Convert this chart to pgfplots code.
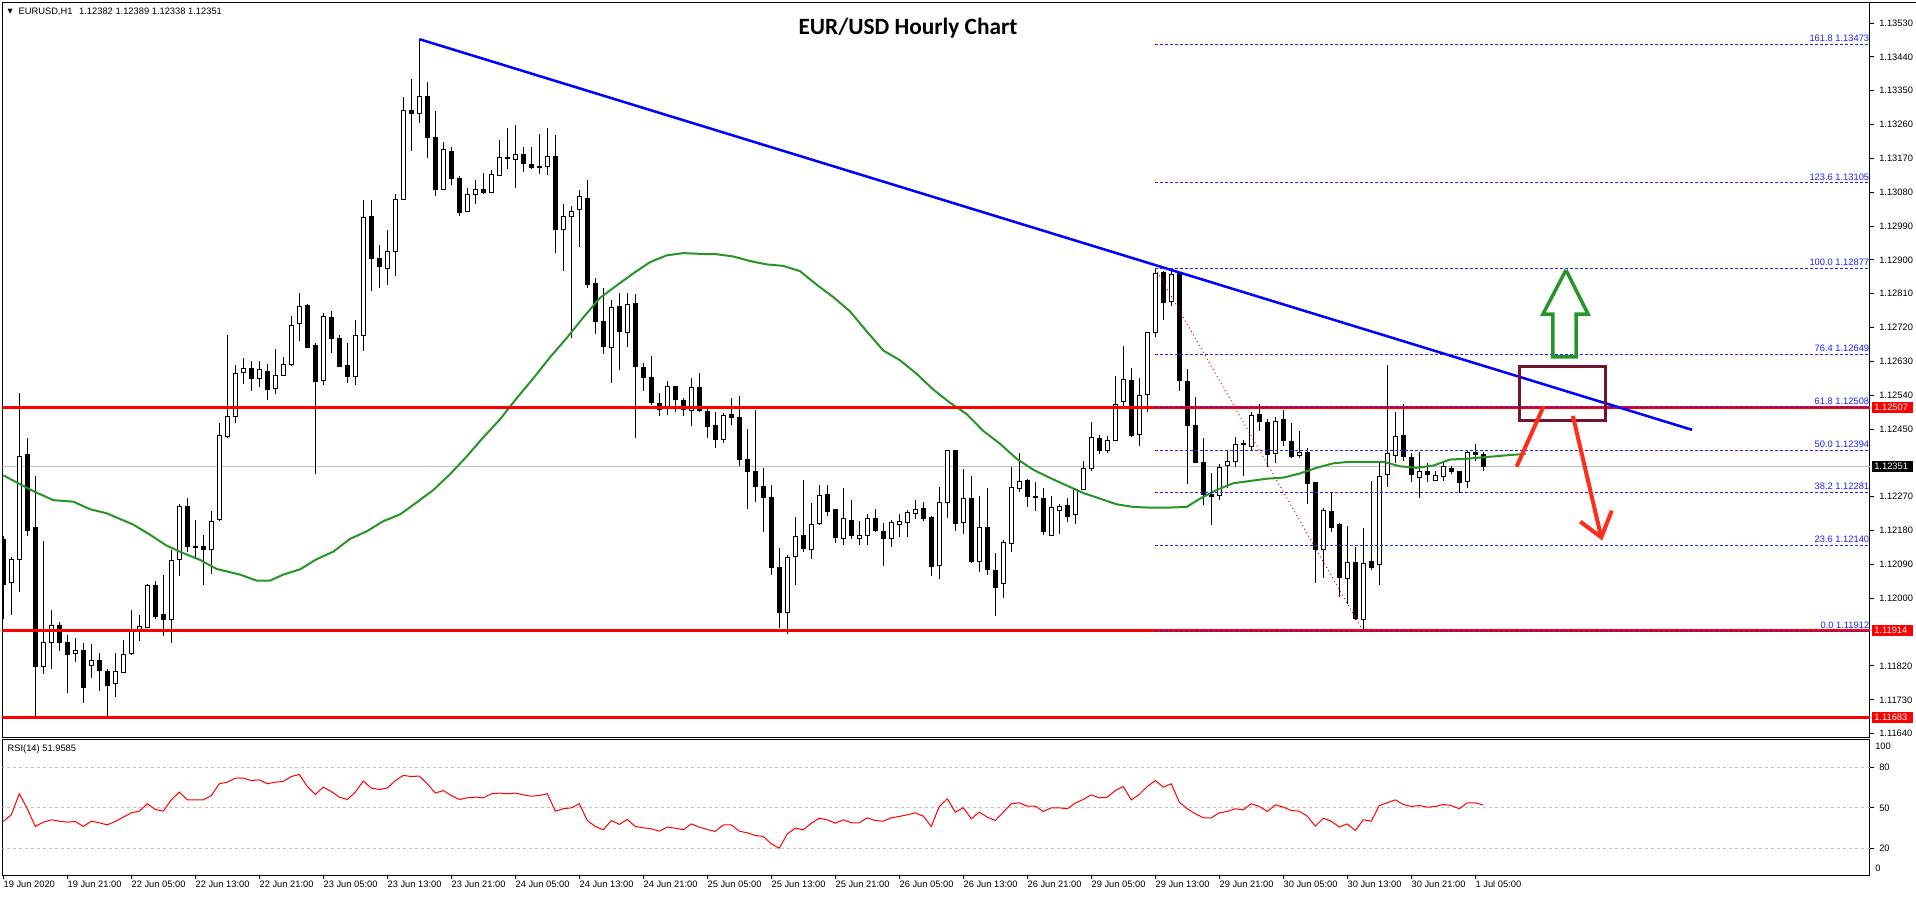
\documentclass[border=0pt]{standalone}
\usepackage{pgfplots}
\pgfplotsset{compat=1.18}
\usepackage{pgfplotstable}
\usepackage{fontspec}
\setmainfont{Liberation Sans}
\newfontfamily\titlefont{Carlito}
\newfontfamily\symfont{DejaVu Sans}
\definecolor{mablue}{RGB}{0,0,255}
\definecolor{magreen}{RGB}{38,148,38}
\definecolor{mared}{RGB}{255,0,0}
\definecolor{arrred}{RGB}{255,45,25}
\definecolor{boxred}{RGB}{112,20,48}
\definecolor{pgray}{RGB}{192,192,192}
\definecolor{fibblue}{RGB}{30,30,255}
\newcommand\sm{\fontsize{7}{8.4}\selectfont}

\pgfplotstableread{
i O H L C
0 1.12158 1.12165 1.11944 1.12039
1 1.12042 1.12110 1.11956 1.12104
2 1.12104 1.12546 1.12017 1.12380
3 1.12383 1.12427 1.12166 1.12181
4 1.12190 1.12326 1.11683 1.11819
5 1.11819 1.12152 1.11799 1.11882
6 1.11884 1.11968 1.11813 1.11928
7 1.11928 1.11937 1.11861 1.11884
8 1.11884 1.11903 1.11748 1.11851
9 1.11855 1.11894 1.11831 1.11863
10 1.11863 1.11882 1.11722 1.11763
11 1.11822 1.11878 1.11789 1.11835
12 1.11835 1.11855 1.11754 1.11807
13 1.11807 1.11813 1.11685 1.11768
14 1.11774 1.11855 1.11738 1.11805
15 1.11805 1.11890 1.11801 1.11852
16 1.11852 1.11968 1.11849 1.11912
17 1.11914 1.11956 1.11887 1.11925
18 1.11922 1.12039 1.11920 1.12035
19 1.12035 1.12047 1.11946 1.11953
20 1.11958 1.12063 1.11899 1.11944
21 1.11944 1.12128 1.11882 1.12102
22 1.12104 1.12250 1.12060 1.12244
23 1.12244 1.12267 1.12122 1.12137
24 1.12137 1.12207 1.12110 1.12138
25 1.12137 1.12169 1.12035 1.12131
26 1.12131 1.12231 1.12065 1.12205
27 1.12209 1.12466 1.12205 1.12434
28 1.12431 1.12700 1.12425 1.12484
29 1.12484 1.12620 1.12466 1.12600
30 1.12600 1.12638 1.12571 1.12611
31 1.12611 1.12632 1.12552 1.12585
32 1.12585 1.12632 1.12561 1.12609
33 1.12603 1.12623 1.12528 1.12555
34 1.12558 1.12662 1.12543 1.12594
35 1.12594 1.12642 1.12591 1.12624
36 1.12623 1.12751 1.12618 1.12727
37 1.12731 1.12813 1.12684 1.12778
38 1.12778 1.12784 1.12666 1.12668
39 1.12671 1.12680 1.12330 1.12577
40 1.12581 1.12759 1.12567 1.12751
41 1.12747 1.12763 1.12653 1.12692
42 1.12692 1.12700 1.12615 1.12618
43 1.12620 1.12680 1.12573 1.12591
44 1.12591 1.12739 1.12567 1.12700
45 1.12700 1.13060 1.12659 1.13012
46 1.13016 1.13060 1.12816 1.12903
47 1.12903 1.12939 1.12825 1.12882
48 1.12878 1.12980 1.12834 1.12923
49 1.12923 1.13074 1.12858 1.13060
50 1.13063 1.13333 1.13060 1.13300
51 1.13297 1.13380 1.13190 1.13289
52 1.13289 1.13487 1.13265 1.13335
53 1.13336 1.13374 1.13170 1.13226
54 1.13226 1.13297 1.13069 1.13087
55 1.13087 1.13214 1.13086 1.13193
56 1.13190 1.13199 1.13098 1.13119
57 1.13119 1.13122 1.13018 1.13028
58 1.13028 1.13090 1.13027 1.13074
59 1.13075 1.13113 1.13048 1.13090
60 1.13090 1.13131 1.13074 1.13081
61 1.13081 1.13139 1.13078 1.13127
62 1.13125 1.13220 1.13122 1.13173
63 1.13173 1.13250 1.13143 1.13170
64 1.13167 1.13258 1.13090 1.13179
65 1.13179 1.13200 1.13133 1.13155
66 1.13155 1.13199 1.13143 1.13147
67 1.13147 1.13236 1.13129 1.13148
68 1.13149 1.13250 1.13125 1.13176
69 1.13175 1.13232 1.12917 1.12980
70 1.12980 1.13048 1.12870 1.13015
71 1.13015 1.13044 1.12692 1.13030
72 1.13034 1.13086 1.12933 1.13069
73 1.13066 1.13113 1.12826 1.12837
74 1.12837 1.12852 1.12704 1.12737
75 1.12737 1.12825 1.12650 1.12671
76 1.12668 1.12793 1.12573 1.12775
77 1.12777 1.12811 1.12606 1.12710
78 1.12707 1.12811 1.12668 1.12783
79 1.12783 1.12808 1.12425 1.12617
80 1.12615 1.12626 1.12552 1.12587
81 1.12587 1.12644 1.12514 1.12520
82 1.12520 1.12547 1.12484 1.12504
83 1.12504 1.12577 1.12488 1.12564
84 1.12564 1.12565 1.12496 1.12528
85 1.12526 1.12532 1.12484 1.12502
86 1.12502 1.12585 1.12458 1.12561
87 1.12561 1.12599 1.12496 1.12502
88 1.12498 1.12508 1.12427 1.12458
89 1.12460 1.12496 1.12401 1.12422
90 1.12422 1.12492 1.12413 1.12488
91 1.12490 1.12532 1.12460 1.12482
92 1.12482 1.12538 1.12351 1.12371
93 1.12371 1.12451 1.12238 1.12339
94 1.12339 1.12502 1.12256 1.12297
95 1.12297 1.12347 1.12175 1.12268
96 1.12268 1.12300 1.12063 1.12083
97 1.12083 1.12134 1.11922 1.11964
98 1.11964 1.12114 1.11905 1.12110
99 1.12112 1.12217 1.12035 1.12166
100 1.12169 1.12315 1.12122 1.12134
101 1.12130 1.12253 1.12104 1.12196
102 1.12199 1.12300 1.12196 1.12273
103 1.12276 1.12302 1.12219 1.12231
104 1.12235 1.12238 1.12146 1.12161
105 1.12161 1.12294 1.12143 1.12213
106 1.12207 1.12262 1.12158 1.12167
107 1.12160 1.12205 1.12143 1.12167
108 1.12167 1.12223 1.12142 1.12213
109 1.12214 1.12238 1.12175 1.12181
110 1.12179 1.12199 1.12087 1.12160
111 1.12160 1.12209 1.12137 1.12202
112 1.12197 1.12223 1.12164 1.12203
113 1.12202 1.12235 1.12164 1.12229
114 1.12226 1.12262 1.12211 1.12238
115 1.12238 1.12255 1.12205 1.12213
116 1.12217 1.12219 1.12060 1.12087
117 1.12087 1.12297 1.12051 1.12255
118 1.12255 1.12395 1.12214 1.12393
119 1.12393 1.12395 1.12179 1.12199
120 1.12203 1.12344 1.12172 1.12268
121 1.12267 1.12324 1.12093 1.12098
122 1.12098 1.12273 1.12069 1.12190
123 1.12190 1.12294 1.12063 1.12077
124 1.12075 1.12120 1.11953 1.12029
125 1.12039 1.12154 1.12001 1.12148
126 1.12146 1.12350 1.12124 1.12294
127 1.12294 1.12386 1.12282 1.12312
128 1.12315 1.12318 1.12244 1.12270
129 1.12270 1.12310 1.12232 1.12271
130 1.12267 1.12294 1.12169 1.12178
131 1.12167 1.12273 1.12166 1.12243
132 1.12235 1.12250 1.12172 1.12244
133 1.12249 1.12268 1.12202 1.12219
134 1.12223 1.12294 1.12197 1.12291
135 1.12291 1.12365 1.12288 1.12347
136 1.12345 1.12470 1.12338 1.12427
137 1.12427 1.12434 1.12383 1.12395
138 1.12395 1.12431 1.12386 1.12421
139 1.12421 1.12591 1.12419 1.12517
140 1.12523 1.12671 1.12511 1.12581
141 1.12581 1.12612 1.12428 1.12433
142 1.12437 1.12585 1.12404 1.12541
143 1.12541 1.12707 1.12496 1.12707
144 1.12707 1.12877 1.12694 1.12864
145 1.12866 1.12870 1.12739 1.12787
146 1.12790 1.12870 1.12777 1.12860
147 1.12864 1.12866 1.12552 1.12581
148 1.12579 1.12611 1.12304 1.12460
149 1.12460 1.12535 1.12359 1.12362
150 1.12362 1.12425 1.12247 1.12276
151 1.12276 1.12332 1.12196 1.12270
152 1.12274 1.12357 1.12261 1.12350
153 1.12353 1.12395 1.12294 1.12365
154 1.12365 1.12428 1.12350 1.12411
155 1.12411 1.12421 1.12324 1.12410
156 1.12405 1.12496 1.12395 1.12488
157 1.12488 1.12517 1.12445 1.12470
158 1.12470 1.12476 1.12350 1.12383
159 1.12386 1.12481 1.12359 1.12472
160 1.12475 1.12500 1.12404 1.12419
161 1.12417 1.12466 1.12374 1.12377
162 1.12380 1.12445 1.12374 1.12389
163 1.12389 1.12401 1.12250 1.12308
164 1.12308 1.12310 1.12041 1.12130
165 1.12130 1.12241 1.12054 1.12235
166 1.12231 1.12282 1.12175 1.12190
167 1.12196 1.12199 1.12003 1.12054
168 1.12053 1.12193 1.11985 1.12095
169 1.12095 1.12137 1.11941 1.11946
170 1.11944 1.12187 1.11912 1.12093
171 1.12098 1.12312 1.12075 1.12083
172 1.12090 1.12362 1.12035 1.12324
173 1.12330 1.12620 1.12297 1.12386
174 1.12380 1.12496 1.12359 1.12433
175 1.12433 1.12517 1.12365 1.12377
176 1.12375 1.12386 1.12308 1.12330
177 1.12324 1.12389 1.12267 1.12339
178 1.12338 1.12359 1.12308 1.12330
179 1.12315 1.12339 1.12312 1.12328
180 1.12324 1.12362 1.12312 1.12351
181 1.12347 1.12353 1.12330 1.12338
182 1.12338 1.12339 1.12280 1.12308
183 1.12312 1.12393 1.12292 1.12389
184 1.12389 1.12410 1.12365 1.12383
185 1.12382 1.12389 1.12338 1.12351
}\candles

\pgfplotsset{
  panel/.style={
    scale only axis, width=1400.625pt,
    xmin=-0.1, xmax=233.3375,
    axis line style={black, line width=0.75pt},
    tick align=outside, major tick length=3pt,
    every tick/.style={black, line width=0.75pt},
    ytick pos=right, yticklabel pos=right,
    /pgf/number format/assume math mode=true,
    tick label style={font=\sm, inner sep=0pt},
    yticklabel style={anchor=west, xshift=3.75pt},
  },
  nomark/.style={only marks, mark=*, mark size=0pt, mark options={draw=none, fill=none}, forget plot},
  fib/.style={fibblue, line width=0.75pt, dash pattern=on 2.25pt off 1.5pt, forget plot},
  hline/.style={mared, line width=1.9pt, forget plot},
}
\tikzset{
  pricetag/.style={anchor=west, font=\sm, text=white, fill=#1, inner xsep=1.5pt, inner ysep=1.7pt, text width=27.75pt, align=left},
}

\begin{document}
\begin{tikzpicture}
\useasboundingbox (0,0) rectangle (1437pt,-672pt);
\draw[line width=0.75pt] (1.875pt,-1.5pt) -- (1437pt,-1.5pt);

\begin{axis}[panel,
  at={(1.875pt,-1.5pt)}, anchor=north west, height=551.25pt,
  ymin=1.1163106, ymax=1.1358585,
  xtick=\empty,
  ytick={1.1164,1.1173,1.1182,1.1200,1.1209,1.1218,1.1227,1.1245,1.1254,1.1263,1.1272,1.1281,1.1290,1.1299,1.1308,1.1317,1.1326,1.1335,1.1344,1.1353},
  yticklabels={1.11640,1.11730,1.11820,1.12000,1.12090,1.12180,1.12270,1.12450,1.12540,1.12630,1.12720,1.12810,1.12900,1.12990,1.13080,1.13170,1.13260,1.13350,1.13440,1.13530},
]
% current price line
\addplot[pgray, line width=0.75pt, forget plot] coordinates {(-1,1.12351) (240,1.12351)};
% wicks
\addplot[nomark,
  error bars/.cd, y dir=plus, y explicit, error mark=none,
  error bar style={draw=black, line width=0.75pt}]
  table[x=i, y=L, y error expr=\thisrow{H}-\thisrow{L}] {\candles};
% bodies (outer, black)
\addplot[nomark,
  error bars/.cd, y dir=both, y explicit, error mark=none,
  error bar style={draw=black, line width=3.75pt, line cap=butt}]
  table[x=i, y expr=(\thisrow{O}+\thisrow{C})/2,
        y error expr={abs(\thisrow{O}-\thisrow{C})/2+0.0000133}] {\candles};
% bodies (inner, white for rising candles)
\addplot[nomark,
  error bars/.cd, y dir=both, y explicit, error mark=none,
  error bar style={draw=white, line width=2.25pt, line cap=butt}]
  table[x=i, y expr=(\thisrow{O}+\thisrow{C})/2,
        y error expr={max((\thisrow{C}-\thisrow{O})/2-0.0000133,0)}] {\candles};
% moving average
\addplot[magreen, line width=1.5pt, forget plot] coordinates {
(0,1.12327) (3.75,1.12285) (6.25,1.12261) (8.75,1.12257) (10.84,1.12237) (12.92,1.12226) (16.25,1.12196) (18.34,1.12169) (20.42,1.12140) (22.5,1.12120) (24.59,1.12102) (26.67,1.12078) (29.59,1.12063) (31.67,1.12047) (33.34,1.12047) (35,1.12063) (37.09,1.12077) (39.17,1.12104) (41.25,1.12124) (43.34,1.12158) (45.42,1.12178) (47.5,1.12205) (49.59,1.12223) (51.67,1.12255) (53.75,1.12288) (55.84,1.12330) (57.92,1.12377) (60,1.12428) (62.09,1.12476) (64.17,1.12532) (66.25,1.12585) (68.34,1.12641) (70.42,1.12692) (72.5,1.12747) (74.59,1.12799) (76.67,1.12832) (78.75,1.12864) (80.84,1.12894) (82.92,1.12912) (85,1.12918) (87.09,1.12916) (89.17,1.12915) (91.25,1.12909) (93.34,1.12897) (95.42,1.12888) (97.5,1.12884) (99.59,1.12870) (101.67,1.12834) (103.75,1.12801) (105.84,1.12763) (107.92,1.12710) (110,1.12659) (112.09,1.12633) (114.17,1.12597) (116.25,1.12555) (118.34,1.12520) (120.42,1.12490) (122.5,1.12445) (124.59,1.12411) (126.67,1.12371) (128.75,1.12342) (130.84,1.12320) (132.92,1.12300) (135,1.12280) (137.09,1.12265) (139.17,1.12250) (141.25,1.12243) (143.34,1.12241) (145.42,1.12241) (147.92,1.12243) (149.59,1.12265) (151.67,1.12288) (153.75,1.12306) (155.84,1.12312) (157.92,1.12318) (160,1.12321) (162.09,1.12332) (164.17,1.12347) (166.25,1.12359) (168.34,1.12363) (170.42,1.12363) (172.5,1.12363) (174.59,1.12351) (176.67,1.12347) (178.75,1.12353) (180.84,1.12369) (182.92,1.12371) (185,1.12375) (188.34,1.12381) (190.3,1.12384)};
% horizontal support / resistance lines
\addplot[hline] coordinates {(-1,1.12507) (240,1.12507)};
\addplot[hline] coordinates {(-1,1.11914) (240,1.11914)};
\addplot[hline] coordinates {(-1,1.11683) (240,1.11683)};
% bearish trend line
\addplot[mablue, line width=1.9pt, forget plot] coordinates {(52,1.13487) (211.1,1.12448)};
% fibonacci levels
\addplot[fib] coordinates {(144,1.13473) (240,1.13473)};
\addplot[fib] coordinates {(144,1.13105) (240,1.13105)};
\addplot[fib] coordinates {(144,1.12877) (240,1.12877)};
\addplot[fib] coordinates {(144,1.12649) (240,1.12649)};
\addplot[fib] coordinates {(144,1.12508) (240,1.12508)};
\addplot[fib] coordinates {(144,1.12394) (240,1.12394)};
\addplot[fib] coordinates {(144,1.12281) (240,1.12281)};
\addplot[fib] coordinates {(144,1.12140) (240,1.12140)};
\addplot[fib] coordinates {(144,1.11912) (240,1.11912)};
\addplot[mared, line width=0.75pt, dash pattern=on 0.75pt off 2.25pt, forget plot] coordinates {(144,1.12877) (170,1.11912)};
% box and arrows
\addplot[boxred, line width=2.25pt, line join=miter, forget plot] coordinates {(195,1.12616) (200.3,1.12616) (200.3,1.12472) (189.5,1.12472) (189.5,1.12616) (195,1.12616)};
\addplot[magreen, line width=2.6pt, line join=miter, forget plot] coordinates {(195.34,1.12873) (198.09,1.12756) (196.59,1.12756) (196.59,1.12642) (193.71,1.12642) (193.71,1.12756) (192.46,1.12756) (195.34,1.12873)};
\addplot[arrred, line width=3pt, forget plot] coordinates {(189.16,1.12350) (192.55,1.12511)};
\addplot[arrred, line width=3pt, forget plot] coordinates {(196.2,1.12485) (199.75,1.12162)};
\addplot[arrred, line width=3pt, line join=miter, forget plot] coordinates {(197.12,1.12204) (199.75,1.12162) (201.06,1.12233)};
% fib labels
\begin{scope}[every node/.style={anchor=base east, inner sep=0pt, font=\sm, text=fibblue, xshift=-0.4pt, yshift=2pt}]
\node at (axis cs:233.3375,1.13473) {161.8 1.13473};
\node at (axis cs:233.3375,1.13105) {123.6 1.13105};
\node at (axis cs:233.3375,1.12877) {100.0 1.12877};
\node at (axis cs:233.3375,1.12649) {76.4 1.12649};
\node at (axis cs:233.3375,1.12508) {61.8 1.12508};
\node at (axis cs:233.3375,1.12394) {50.0 1.12394};
\node at (axis cs:233.3375,1.12281) {38.2 1.12281};
\node at (axis cs:233.3375,1.12140) {23.6 1.12140};
\node at (axis cs:233.3375,1.11912) {0.0 1.11912};
\end{scope}
\end{axis}

\begin{axis}[panel,
  at={(1.875pt,-554.475pt)}, anchor=north west, height=102pt,
  ymin=0, ymax=100.74,
  xtick={0,8,...,184},
  xticklabels={19 Jun 2020,19 Jun 21:00,22 Jun 05:00,22 Jun 13:00,22 Jun 21:00,23 Jun 05:00,23 Jun 13:00,23 Jun 21:00,24 Jun 05:00,24 Jun 13:00,24 Jun 21:00,25 Jun 05:00,25 Jun 13:00,25 Jun 21:00,26 Jun 05:00,26 Jun 13:00,26 Jun 21:00,29 Jun 05:00,29 Jun 13:00,29 Jun 21:00,30 Jun 05:00,30 Jun 13:00,30 Jun 21:00,1 Jul 05:00},
  xtick pos=bottom,
  xticklabel style={anchor=north west, yshift=-1.2pt},
  ytick={20,50,80}, yticklabels={20,50,80},
  extra y ticks={95.8,5.2}, extra y tick labels={100,0},
  extra y tick style={major tick length=0pt, yticklabel style={xshift=0pt}},
]
\addplot[pgray, line width=0.75pt, dash pattern=on 2.25pt off 2.25pt, forget plot] coordinates {(-1,80) (240,80)};
\addplot[pgray, line width=0.75pt, dash pattern=on 2.25pt off 2.25pt, forget plot] coordinates {(-1,50) (240,50)};
\addplot[pgray, line width=0.75pt, dash pattern=on 2.25pt off 2.25pt, forget plot] coordinates {(-1,20) (240,20)};
\addplot[mared, line width=0.75pt, forget plot] coordinates {
(0,39.9)(1,44.8)(2,60.4)(3,49.3)(4,36.2)(5,39.4)(6,41.1)(7,40.1)(8,39.4)(9,39.9)(10,36.2)(11,40.1)(12,38.9)(13,37.4)(14,39.9)(15,43.1)(16,46.3)(17,47.5)(18,53.0)(19,48.8)(20,47.5)(21,55.9)(22,61.6)(23,55.9)(24,55.9)(25,55.9)(26,59.1)(27,67.8)(28,69.0)(29,72.0)(30,72.0)(31,70.2)(32,70.7)(33,67.8)(34,69.0)(35,69.5)(36,73.2)(37,74.7)(38,65.8)(39,59.9)(40,65.3)(41,62.1)(42,57.9)(43,56.2)(44,61.6)(45,69.8)(46,64.6)(47,63.6)(48,64.6)(49,70.2)(50,74.0)(51,73.2)(52,73.5)(53,67.8)(54,60.9)(55,62.8)(56,59.1)(57,56.2)(58,57.4)(59,57.9)(60,57.4)(61,60.4)(62,60.9)(63,60.4)(64,60.9)(65,59.6)(66,58.6)(67,59.1)(68,60.4)(69,47.5)(70,49.3)(71,50.0)(72,53.0)(73,40.6)(74,36.2)(75,33.7)(76,40.6)(77,37.7)(78,41.4)(79,36.2)(80,35.2)(81,34.4)(82,32.7)(83,35.7)(84,34.9)(85,33.7)(86,38.1)(87,35.7)(88,34.0)(89,32.5)(90,37.4)(91,37.4)(92,32.7)(93,31.5)(94,29.5)(95,28.8)(96,23.3)(97,20.1)(98,30.7)(99,34.9)(100,33.7)(101,38.6)(102,42.3)(103,41.1)(104,38.6)(105,41.1)(106,38.9)(107,38.9)(108,42.6)(109,40.6)(110,40.1)(111,42.6)(112,43.6)(113,44.8)(114,46.3)(115,43.8)(116,36.2)(117,51.0)(118,56.7)(119,46.8)(120,50.0)(121,41.9)(122,46.8)(123,43.1)(124,40.6)(125,46.8)(126,53.0)(127,53.7)(128,51.2)(129,51.2)(130,47.3)(131,50.0)(132,50.0)(133,49.3)(134,53.5)(135,56.2)(136,59.6)(137,57.4)(138,57.9)(139,62.8)(140,65.8)(141,55.9)(142,59.9)(143,65.8)(144,70.2)(145,65.3)(146,67.8)(147,54.2)(148,49.3)(149,45.6)(150,42.6)(151,42.6)(152,46.3)(153,47.3)(154,49.3)(155,48.5)(156,53.0)(157,51.0)(158,47.3)(159,52.2)(160,50.5)(161,48.0)(162,47.5)(163,43.8)(164,36.4)(165,42.3)(166,40.1)(167,35.7)(168,38.1)(169,33.2)(170,41.1)(171,40.1)(172,51.7)(173,53.7)(174,55.9)(175,52.5)(176,51.0)(177,51.7)(178,50.5)(179,51.0)(180,52.5)(181,51.7)(182,49.3)(183,53.7)(184,53.7)(185,51.96)};
\end{axis}

% price tags on the price scale (text labels)
\node[pricetag=mared] at (1404pt,-305.73pt) {1.12507};
\node[pricetag=black] at (1404pt,-349.73pt) {1.12351};
\node[pricetag=mared] at (1404pt,-472.96pt) {1.11914};
\node[pricetag=mared] at (1404pt,-538.10pt) {1.11683};

% header texts
\node[anchor=base west, inner sep=0pt, font=\sm] at (5.5pt,-10.5pt)
  {{\symfont\fontsize{5}{6}\selectfont\raisebox{0.6pt}{▼}}\hspace{4.4pt}EURUSD,H1\hspace{5pt}1.12382 1.12389 1.12338 1.12351};
\node[anchor=base, inner sep=0pt] at (681pt,-26pt)
  {\titlefont\bfseries\fontsize{17.5}{20}\selectfont EUR/USD Hourly Chart};
\node[anchor=base west, inner sep=0pt, font=\sm] at (5.5pt,-563.6pt) {RSI(14) 51.9585};
\end{tikzpicture}
\end{document}
